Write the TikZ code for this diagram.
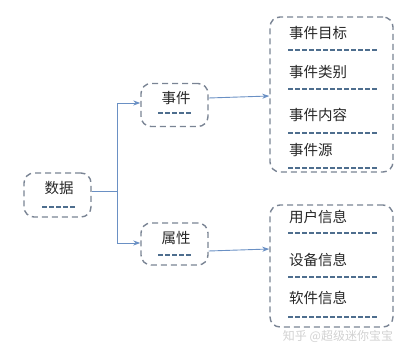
\documentclass[tikz,border=0pt]{standalone}
\usepackage{fontspec}
\newfontfamily\cjk{Noto Sans CJK SC}
\usetikzlibrary{arrows.meta}
\definecolor{boxgray}{HTML}{7A8494}
\definecolor{linebl}{HTML}{4E6E8E}
\definecolor{arrbl}{HTML}{6A90C4}
\tikzset{
  dbox/.style={draw=boxgray, line width=1.4pt, dash pattern=on 6pt off 4pt, rounded corners=10pt},
  sep/.style={draw=linebl, line width=1.3pt, dash pattern=on 4.5pt off 2.5pt},
  lbl/.style={font=\cjk\fontsize{14.5}{16}\selectfont, text=black!85, inner sep=0pt, anchor=west},
  clbl/.style={font=\cjk\fontsize{14.5}{16}\selectfont, text=black!85, inner sep=0pt},
  conn/.style={draw=arrbl, line width=0.9pt},
  arr/.style={conn, -{Stealth[length=7pt,width=5pt]}},
}
\begin{document}
\begin{tikzpicture}[x=1pt,y=-1pt]
\useasboundingbox (0,0) rectangle (420,355);
% left box
\node[dbox, minimum width=67pt, minimum height=44pt] (data) at (57.5,195) {};
\node[clbl] (datat) at (59,188) {数据};
\draw[sep] (42,207) -- (77,207);
% middle boxes
\node[dbox, minimum width=67pt, minimum height=43pt] (ev) at (174.5,105) {};
\node[clbl] (evt) at (176,98) {事件};
\draw[sep] (158,113) -- (193,113);
\node[dbox, minimum width=67pt, minimum height=42pt] (at) at (174.5,244) {};
\node[clbl] (att) at (176,238) {属性};
\draw[sep] (158,255) -- (193,255);
% right boxes
\node[dbox, minimum width=123pt, minimum height=155pt] (r1) at (331.5,94.5) {};
\node[lbl] (r1a) at (289,33) {事件目标};
\draw[sep] (288,50) -- (378,50);
\node[lbl] (r1b) at (289,72) {事件类别};
\draw[sep] (288,89) -- (378,89);
\node[lbl] (r1c) at (289,115) {事件内容};
\draw[sep] (288,133) -- (378,133);
\node[lbl] (r1d) at (289,150) {事件源};
\draw[sep] (288,168) -- (378,168);
\node[dbox, minimum width=123pt, minimum height=122pt] (r2) at (331.5,266) {};
\node[lbl] (r2a) at (289,217) {用户信息};
\draw[sep] (288,233) -- (378,233);
\node[lbl] (r2b) at (289,260) {设备信息};
\draw[sep] (288,277) -- (378,277);
\node[lbl] (r2c) at (289,298) {软件信息};
\draw[sep] (288,317) -- (378,317);
% connectors
\coordinate (j) at (117,191);
\draw[conn] (data.east |- j) -- (j);
\draw[arr] (j) |- (ev.west |- 0,103);
\draw[arr] (j) |- (at.west |- 0,243);
\draw[arr] (ev.east |- 0,98) -- (r1.west |- 0,96);
\draw[arr] (at.east |- 0,251) -- (r2.west |- 0,249);
% watermark
\node[font=\cjk\fontsize{12}{14}\selectfont, text=black!18, inner sep=0pt] (wm) at (338,336) {知乎 @超级迷你宝宝};
\end{tikzpicture}
\end{document}
